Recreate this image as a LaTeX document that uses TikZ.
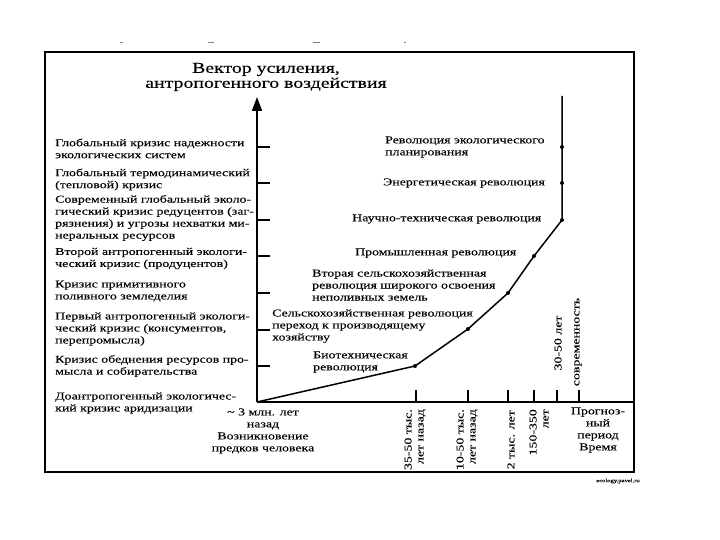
\documentclass[tikz,border=0pt]{standalone}
\usepackage{fontspec}
\setmainfont[FakeStretch=1.32,FakeBold=0.15]{Liberation Serif}
\usetikzlibrary{arrows.meta}
\begin{document}
\begin{tikzpicture}[x=1pt,y=-1pt,
  lbl/.style={font=\fontsize{10.5}{12}\selectfont, inner sep=0pt, align=left, anchor=west},
  clbl/.style={font=\fontsize{10.5}{12}\selectfont, inner sep=0pt, align=center},
  rlbl/.style={font=\fontsize{10.5}{12}\selectfont, inner sep=0pt, align=right, rotate=90, anchor=east},
  axis/.style={line width=1.8pt},
  tick/.style={line width=1.4pt},
  curve/.style={line width=1.5pt, line join=round},
  dot/.style={circle, fill=black, inner sep=0pt, minimum size=4pt}]
\useasboundingbox (0,0) rectangle (720,540);
% frame
\draw[line width=1.1pt] (45,52) rectangle (634,472);
\draw[line width=2pt] (45,52) -- (634,52);
% scan marks
\draw[line width=1pt, gray] (120,43) -- (123,43) (208,43) -- (214,43) (313,43) -- (320,43) (404,43) -- (406,43);
% axes
\coordinate (O) at (257,402);
\coordinate (Ytop) at (257,97);
\coordinate (Xend) at (634,402);
\draw[axis, -{Triangle[length=14pt,width=10pt]}] (O) -- (Ytop);
\draw[axis] (O) -- (Xend);
% title
\node[clbl, font=\fontsize{15}{15}\selectfont] (title) at (266,77) {Вектор усиления,\\антропогенного воздействия};
% y ticks
\foreach \yy in {183,220,256,293,330,366} \draw[tick] (257,\yy) -- (270,\yy);
\draw[line width=2.2pt] (257,147) -- (270,147);
% x ticks
\foreach \xx in {416,468,508,534,557,579} \draw[tick] (\xx,402) -- (\xx,390);
% curve points
\coordinate (P1) at (415,366);
\coordinate (P2) at (468,329);
\coordinate (P3) at (508,293);
\coordinate (P4) at (534,256);
\coordinate (P5) at (562,220);
\coordinate (P6) at (562,183);
\coordinate (P7) at (562,147);
\coordinate (Ptop) at (562,96);
\draw[curve] (O) -- (P1) -- (P2) -- (P3) -- (P4) -- (P5) -- (P6) -- (P7) -- (Ptop);
\foreach \p in {P1,P2,P3,P4,P5,P6,P7} \node[dot] at (\p) {};
% left labels
\node[lbl] (c1) at (55,148.5) {Глобальный кризис надежности\\экологических систем};
\node[lbl] (c2) at (55,179.5) {Глобальный термодинамический\\(тепловой) кризис};
\node[lbl] (c3) at (55,218) {Современный глобальный эколо-\\гический кризис редуцентов (заг-\\рязнения) и угрозы нехватки ми-\\неральных ресурсов};
\node[lbl] (c4) at (55,258.5) {Второй антропогенный экологи-\\ческий кризис (продуцентов)};
\node[lbl] (c5) at (55,291) {Кризис примитивного\\поливного земледелия};
\node[lbl] (c6) at (55,329) {Первый антропогенный экологи-\\ческий кризис (консументов,\\перепромысла)};
\node[lbl] (c7) at (55,366) {Кризис обеднения ресурсов про-\\мысла и собирательства};
\node[lbl] (c8) at (55,403) {Доантропогенный экологичес-\\кий кризис аридизации};
% curve labels
\node[lbl] (r7) at (385,147) {Революция экологического\\планирования};
\node[lbl] (r6) at (383,183) {Энергетическая революция};
\node[lbl] (r5) at (352,219) {Научно-техническая революция};
\node[lbl] (r4) at (355,253) {Промышленная революция};
\node[lbl] (r3) at (312,285) {Вторая сельскохозяйственная\\революция широкого освоения\\неполивных земель};
\node[lbl] (r2) at (272,326) {Сельскохозяйственная революция\\переход к производящему\\хозяйству};
\node[lbl] (r1) at (313,362) {Биотехническая\\революция};
% bottom labels
\node[clbl] (b0) at (263,431) {\textasciitilde{} 3 млн. лет\\назад\\Возникновение\\предков человека};
\node[rlbl] (b1) at (415,409) {35-50 тыс.\\лет назад};
\node[rlbl] (b2) at (467,409) {10-50 тыс.\\лет назад};
\node[rlbl] (b3) at (511,410) {2 тыс. лет};
\node[rlbl] (b4) at (539,409) {150-350\\лет};
\node[clbl] (b5) at (598,430) {Прогноз-\\ный\\период\\Время};
\node[clbl, rotate=90] (a1) at (558,343) {30-50 лет};
\node[clbl, rotate=90] (a2) at (578,342) {современность};
\node[clbl, font=\fontsize{5}{6}\selectfont] (src) at (618,481) {ecology.pavel.ru};
\end{tikzpicture}
\end{document}
